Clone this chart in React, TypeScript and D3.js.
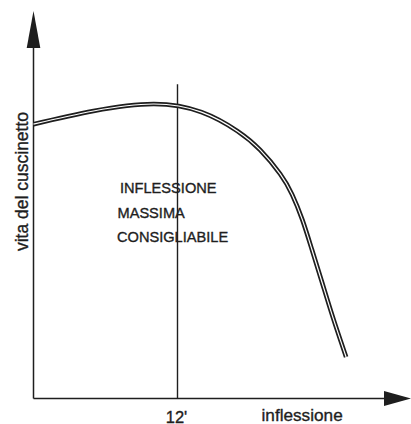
import React from "react";
import * as d3 from "d3";

const inflection = [0, 5, 10, 14, 17, 18.9, 20.55, 21.55, 22.4, 23.2, 24.05, 24.95, 26.05];
const life = [70.7, 74.1, 75.9, 73.8, 68.9, 64.0, 57.9, 52.6, 46.1, 38.4, 29.9, 20.9, 10.7];
const limitValue = 12;
const limitTop = 81;
const limitTickLabel = "12'";
const xAxisTitle = "inflessione";
const yAxisTitle = "vita del cuscinetto";
const noteLines = ["INFLESSIONE", "MASSIMA", "CONSIGLIABILE"];

const W = 411;
const H = 424;

export default function App() {
  const x = d3.scaleLinear().domain([0, 32]).range([33.5, 417.5]);
  const y = d3.scaleLinear().domain([0, 100]).range([398.5, 10.5]);

  const pts: [number, number][] = inflection.map((v, i) => [v, life[i]]);
  const line = d3
    .line<[number, number]>()
    .x((d) => x(d[0]))
    .y((d) => y(d[1]))
    .curve(d3.curveNatural);
  const path = line(pts) || "";

  const x0 = x(0);
  const y0 = y(0);
  const yTip = 11;
  const yBase = 48;
  const xTip = 411;
  const xBase = 384;
  const ink = "#1e1e1e";
  const font = "'Liberation Sans', Arial, Helvetica, sans-serif";
  const textStroke = { stroke: ink, strokeWidth: 0.35 };

  return (
    <svg
      width={W}
      height={H}
      viewBox={`0 0 ${W} ${H}`}
      style={{ position: "absolute", left: 0, top: 0, background: "#fff", display: "block" }}
    >
      {/* axes */}
      <line x1={x0} y1={y0} x2={x0} y2={yBase} stroke={ink} strokeWidth={1.5} />
      <line x1={x0} y1={y0} x2={xBase} y2={y0} stroke={ink} strokeWidth={1.5} />
      <path
        d={`M${x0},${yTip} L${x0 - 6.8},${yBase} L${x0 + 6.8},${yBase} Z`}
        fill={ink}
      />
      <path
        d={`M${xTip},${y0} L${xBase},${y0 - 7.5} L${xBase},${y0 + 7.5} Z`}
        fill={ink}
      />
      {/* limit line */}
      <line
        x1={x(limitValue)}
        y1={y(0)}
        x2={x(limitValue)}
        y2={y(limitTop)}
        stroke={ink}
        strokeWidth={1.4}
      />
      {/* double curve */}
      <path d={path} fill="none" stroke={ink} strokeWidth={4.6} strokeLinecap="butt" />
      <path d={path} fill="none" stroke="#fff" strokeWidth={1.2} strokeLinecap="butt" />
      {/* note */}
      <g fontFamily={font} fontSize={14.6} fill={ink} {...textStroke}>
        <text x={120} y={193}>{noteLines[0]}</text>
        <text x={117.5} y={218}>{noteLines[1]}</text>
        <text x={117} y={242}>{noteLines[2]}</text>
      </g>
      {/* axis labels */}
      <text
        x={x(limitValue) - 1}
        y={422.5}
        textAnchor="middle"
        fontFamily={font}
        fontSize={16.5}
        fill={ink}
        {...textStroke}
      >
        {limitTickLabel}
      </text>
      <text x={261.5} y={420.5} fontFamily={font} fontSize={17.2} fill={ink} {...textStroke}>
        {xAxisTitle}
      </text>
      <text
        transform={`translate(28,181.5) rotate(-90)`}
        textAnchor="middle"
        fontFamily={font}
        fontSize={17.5}
        fill={ink}
        {...textStroke}
      >
        {yAxisTitle}
      </text>
    </svg>
  );
}
